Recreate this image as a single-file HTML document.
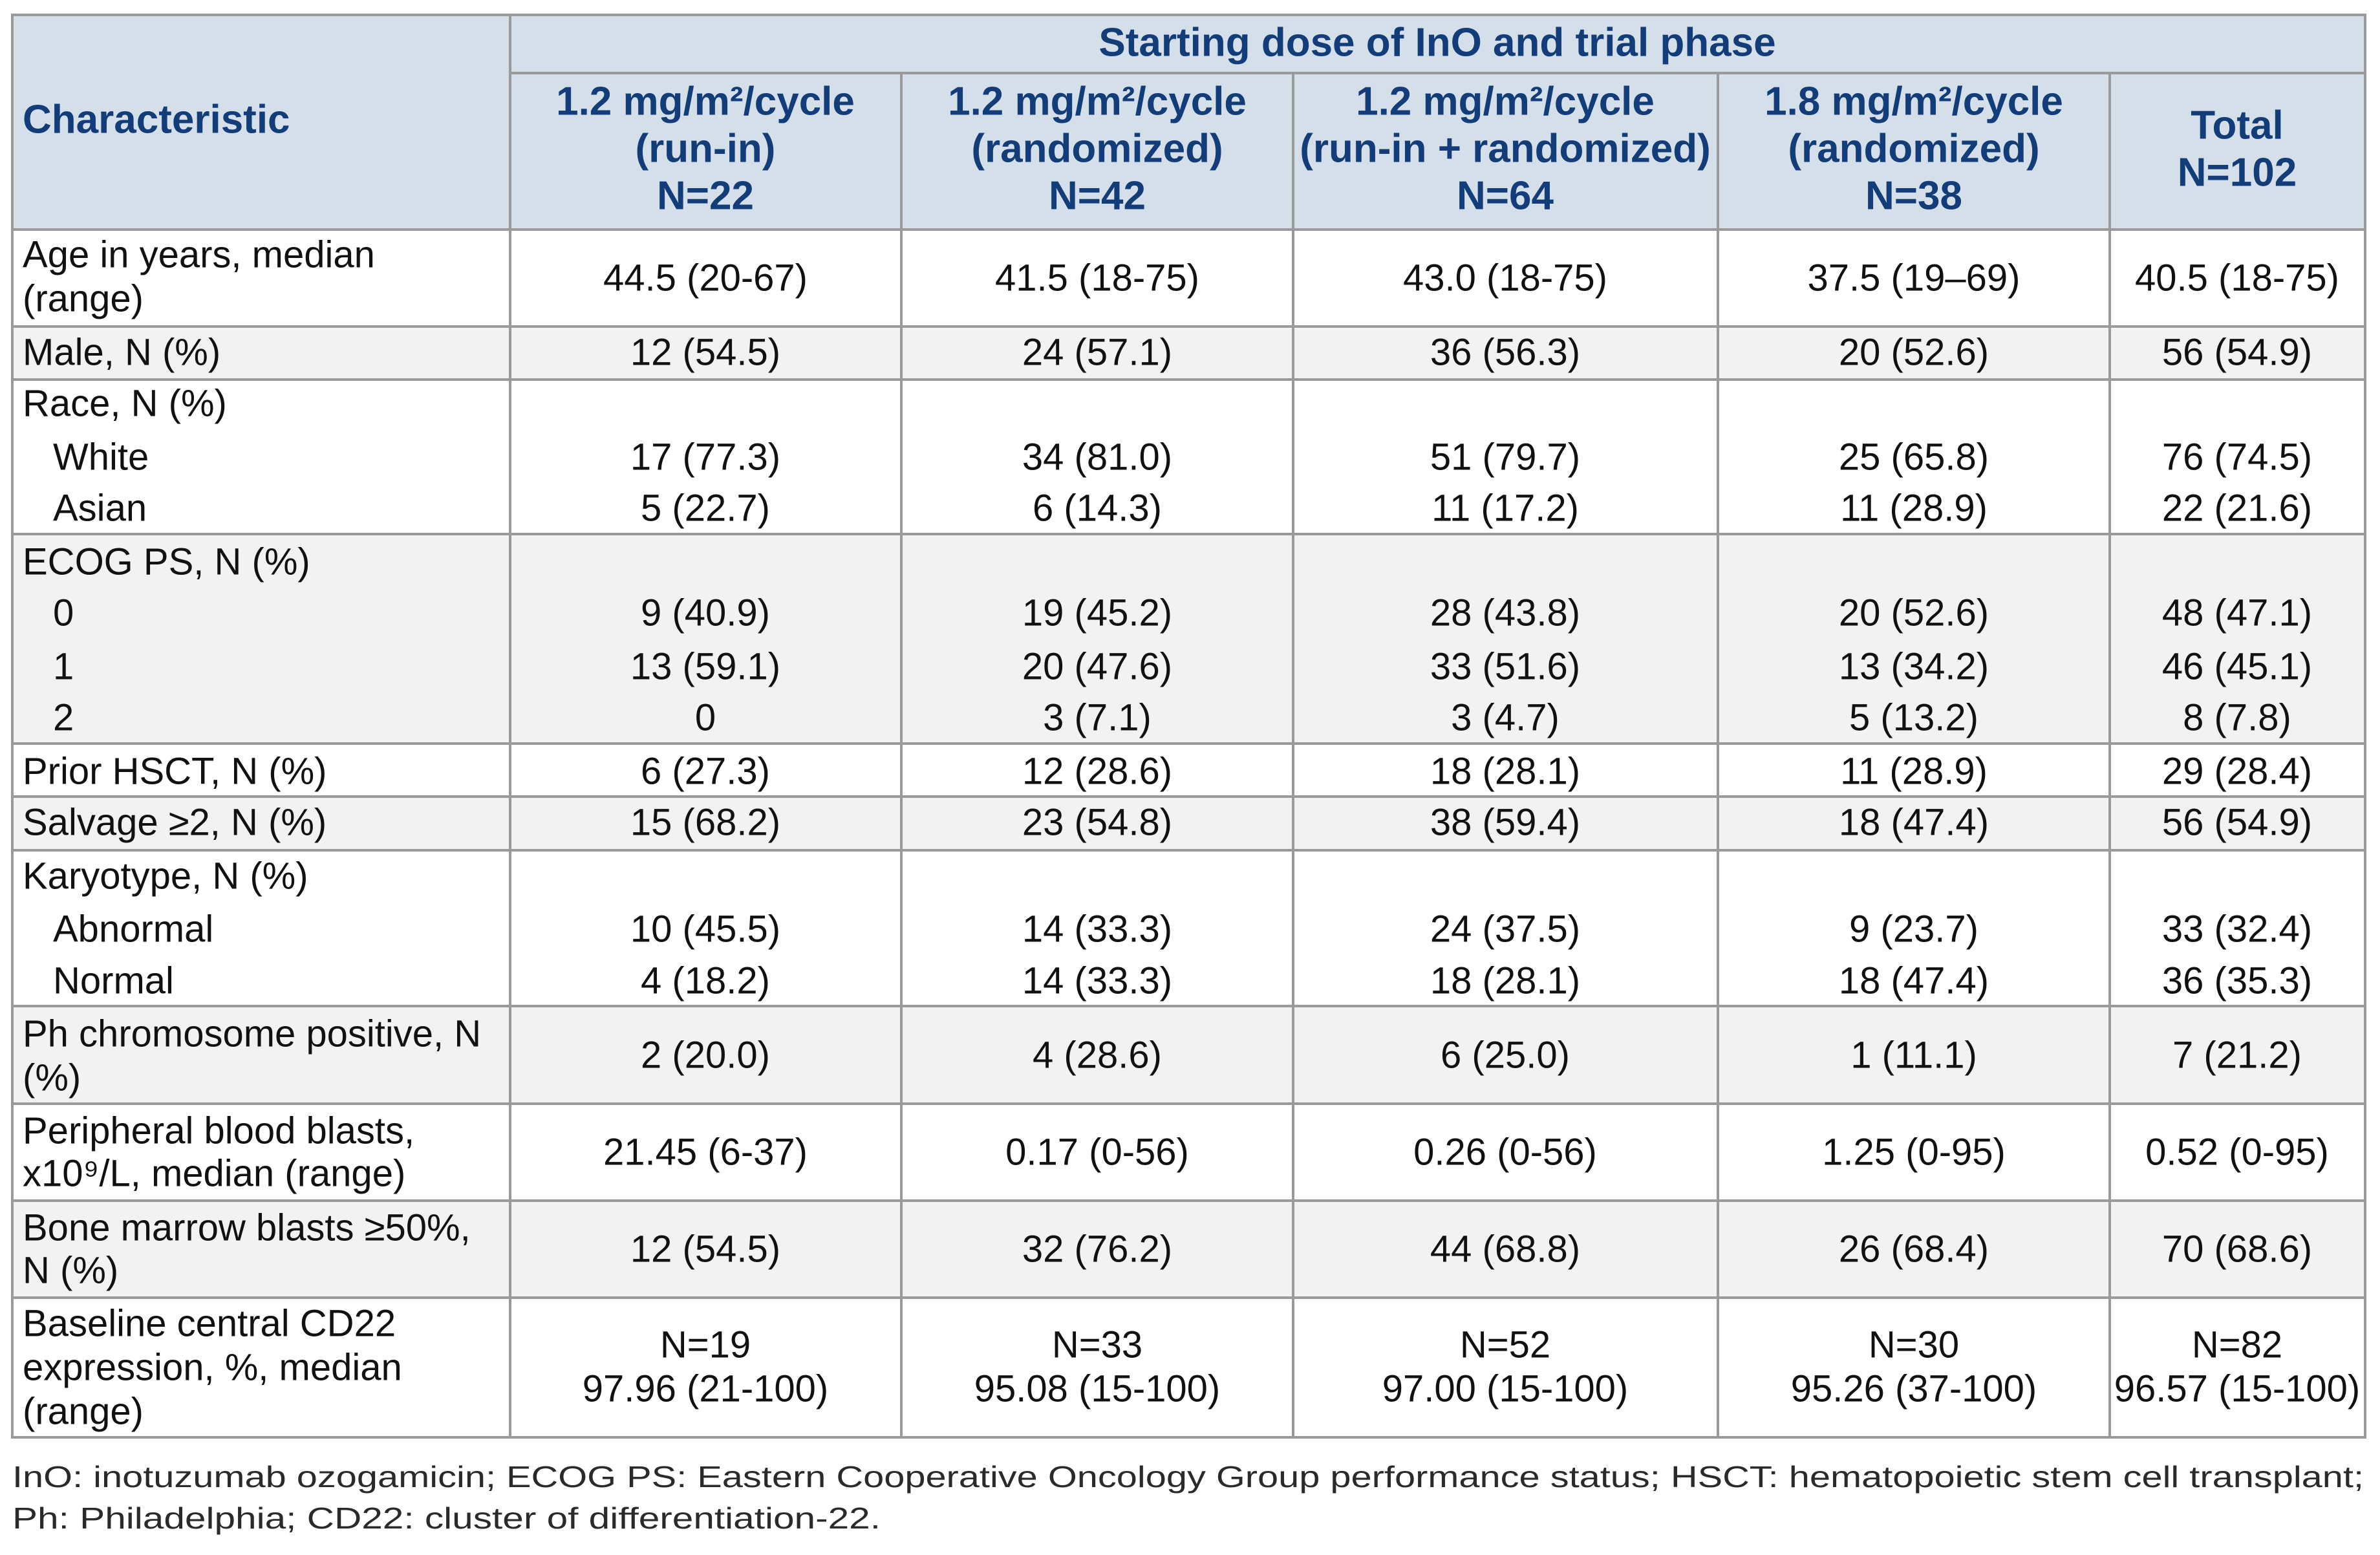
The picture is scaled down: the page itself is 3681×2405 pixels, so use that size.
<!DOCTYPE html>
<html><head><meta charset="utf-8"><style>
html,body{margin:0;padding:0;background:#fff;}
svg{display:block;}
text{font-family:"Liberation Sans",Arial,sans-serif;}
.h{font-weight:bold;fill:#123d78;font-size:62px;}
.b{fill:#111;font-size:58px;}
.c{text-anchor:middle;}
.f{fill:#2a2a2a;font-size:46px;}
</style></head><body>
<svg width="3681" height="2405" viewBox="0 0 3681 2405" xmlns="http://www.w3.org/2000/svg">
<rect x="0" y="0" width="3681" height="2405" fill="#fff"/>
<rect x="19" y="23" width="3639" height="332" fill="#d5dfe9"/>
<rect x="19" y="505" width="3639" height="82" fill="#f2f2f2"/>
<rect x="19" y="826" width="3639" height="324" fill="#f2f2f2"/>
<rect x="19" y="1232" width="3639" height="83" fill="#f2f2f2"/>
<rect x="19" y="1556" width="3639" height="151" fill="#f2f2f2"/>
<rect x="19" y="1857" width="3639" height="150" fill="#f2f2f2"/>
<g stroke="#9a9a9a" stroke-width="4" fill="none">
<rect x="19" y="23" width="3639" height="2200"/>
<line x1="789" y1="113" x2="3658" y2="113"/>
<line x1="19" y1="355" x2="3658" y2="355"/>
<line x1="19" y1="505" x2="3658" y2="505"/>
<line x1="19" y1="587" x2="3658" y2="587"/>
<line x1="19" y1="826" x2="3658" y2="826"/>
<line x1="19" y1="1150" x2="3658" y2="1150"/>
<line x1="19" y1="1232" x2="3658" y2="1232"/>
<line x1="19" y1="1315" x2="3658" y2="1315"/>
<line x1="19" y1="1556" x2="3658" y2="1556"/>
<line x1="19" y1="1707" x2="3658" y2="1707"/>
<line x1="19" y1="1857" x2="3658" y2="1857"/>
<line x1="19" y1="2007" x2="3658" y2="2007"/>
<line x1="789" y1="23" x2="789" y2="2223"/>
<line x1="1394" y1="113" x2="1394" y2="2223"/>
<line x1="2000" y1="113" x2="2000" y2="2223"/>
<line x1="2657" y1="113" x2="2657" y2="2223"/>
<line x1="3263" y1="113" x2="3263" y2="2223"/>
</g>
<g dominant-baseline="central">
<text class="h c" x="2223" y="66">Starting dose of InO and trial phase</text>
<text class="h" x="35" y="185">Characteristic</text>
<text class="h c" x="1091" y="157">1.2 mg/m²/cycle</text><text class="h c" x="1091" y="230">(run-in)</text><text class="h c" x="1091" y="303">N=22</text>
<text class="h c" x="1697" y="157">1.2 mg/m²/cycle</text><text class="h c" x="1697" y="230">(randomized)</text><text class="h c" x="1697" y="303">N=42</text>
<text class="h c" x="2328" y="157">1.2 mg/m²/cycle</text><text class="h c" x="2328" y="230">(run-in + randomized)</text><text class="h c" x="2328" y="303">N=64</text>
<text class="h c" x="2960" y="157">1.8 mg/m²/cycle</text><text class="h c" x="2960" y="230">(randomized)</text><text class="h c" x="2960" y="303">N=38</text>
<text class="h c" x="3460" y="194">Total</text><text class="h c" x="3460" y="267">N=102</text>

<g class="b">
<text x="35" y="394">Age in years, median</text><text x="35" y="462">(range)</text>
<text x="35" y="545">Male, N (%)</text>
<text x="35" y="624">Race, N (%)</text><text x="82" y="707">White</text><text x="82" y="786">Asian</text>
<text x="35" y="869">ECOG PS, N (%)</text><text x="82" y="948">0</text><text x="82" y="1031">1</text><text x="82" y="1110">2</text>
<text x="35" y="1193">Prior HSCT, N (%)</text>
<text x="35" y="1272">Salvage ≥2, N (%)</text>
<text x="35" y="1355">Karyotype, N (%)</text><text x="82" y="1437">Abnormal</text><text x="82" y="1517">Normal</text>
<text x="35" y="1599">Ph chromosome positive, N</text><text x="35" y="1667">(%)</text>
<text x="35" y="1749">Peripheral blood blasts,</text><text x="35" y="1815">x10⁹/L, median (range)</text>
<text x="35" y="1899">Bone marrow blasts ≥50%,</text><text x="35" y="1965">N (%)</text>
<text x="35" y="2047">Baseline central CD22</text><text x="35" y="2115">expression, %, median</text><text x="35" y="2183">(range)</text>
</g>
<g class="b c">
<text x="1091" y="430">44.5 (20-67)</text><text x="1697" y="430">41.5 (18-75)</text><text x="2328" y="430">43.0 (18-75)</text><text x="2960" y="430">37.5 (19–69)</text><text x="3460" y="430">40.5 (18-75)</text>
<text x="1091" y="545">12 (54.5)</text><text x="1697" y="545">24 (57.1)</text><text x="2328" y="545">36 (56.3)</text><text x="2960" y="545">20 (52.6)</text><text x="3460" y="545">56 (54.9)</text>
<text x="1091" y="707">17 (77.3)</text><text x="1697" y="707">34 (81.0)</text><text x="2328" y="707">51 (79.7)</text><text x="2960" y="707">25 (65.8)</text><text x="3460" y="707">76 (74.5)</text>
<text x="1091" y="786">5 (22.7)</text><text x="1697" y="786">6 (14.3)</text><text x="2328" y="786">11 (17.2)</text><text x="2960" y="786">11 (28.9)</text><text x="3460" y="786">22 (21.6)</text>
<text x="1091" y="948">9 (40.9)</text><text x="1697" y="948">19 (45.2)</text><text x="2328" y="948">28 (43.8)</text><text x="2960" y="948">20 (52.6)</text><text x="3460" y="948">48 (47.1)</text>
<text x="1091" y="1031">13 (59.1)</text><text x="1697" y="1031">20 (47.6)</text><text x="2328" y="1031">33 (51.6)</text><text x="2960" y="1031">13 (34.2)</text><text x="3460" y="1031">46 (45.1)</text>
<text x="1091" y="1110">0</text><text x="1697" y="1110">3 (7.1)</text><text x="2328" y="1110">3 (4.7)</text><text x="2960" y="1110">5 (13.2)</text><text x="3460" y="1110">8 (7.8)</text>
<text x="1091" y="1193">6 (27.3)</text><text x="1697" y="1193">12 (28.6)</text><text x="2328" y="1193">18 (28.1)</text><text x="2960" y="1193">11 (28.9)</text><text x="3460" y="1193">29 (28.4)</text>
<text x="1091" y="1272">15 (68.2)</text><text x="1697" y="1272">23 (54.8)</text><text x="2328" y="1272">38 (59.4)</text><text x="2960" y="1272">18 (47.4)</text><text x="3460" y="1272">56 (54.9)</text>
<text x="1091" y="1437">10 (45.5)</text><text x="1697" y="1437">14 (33.3)</text><text x="2328" y="1437">24 (37.5)</text><text x="2960" y="1437">9 (23.7)</text><text x="3460" y="1437">33 (32.4)</text>
<text x="1091" y="1517">4 (18.2)</text><text x="1697" y="1517">14 (33.3)</text><text x="2328" y="1517">18 (28.1)</text><text x="2960" y="1517">18 (47.4)</text><text x="3460" y="1517">36 (35.3)</text>
<text x="1091" y="1632">2 (20.0)</text><text x="1697" y="1632">4 (28.6)</text><text x="2328" y="1632">6 (25.0)</text><text x="2960" y="1632">1 (11.1)</text><text x="3460" y="1632">7 (21.2)</text>
<text x="1091" y="1782">21.45 (6-37)</text><text x="1697" y="1782">0.17 (0-56)</text><text x="2328" y="1782">0.26 (0-56)</text><text x="2960" y="1782">1.25 (0-95)</text><text x="3460" y="1782">0.52 (0-95)</text>
<text x="1091" y="1932">12 (54.5)</text><text x="1697" y="1932">32 (76.2)</text><text x="2328" y="1932">44 (68.8)</text><text x="2960" y="1932">26 (68.4)</text><text x="3460" y="1932">70 (68.6)</text>
<text x="1091" y="2080">N=19</text><text x="1697" y="2080">N=33</text><text x="2328" y="2080">N=52</text><text x="2960" y="2080">N=30</text><text x="3460" y="2080">N=82</text>
<text x="1091" y="2148">97.96 (21-100)</text><text x="1697" y="2148">95.08 (15-100)</text><text x="2328" y="2148">97.00 (15-100)</text><text x="2960" y="2148">95.26 (37-100)</text><text x="3460" y="2148">96.57 (15-100)</text>
</g>
<text class="f" x="19" y="2284" textLength="3637" lengthAdjust="spacingAndGlyphs">InO: inotuzumab ozogamicin; ECOG PS: Eastern Cooperative Oncology Group performance status; HSCT: hematopoietic stem cell transplant;</text>
<text class="f" x="19" y="2348" textLength="1343" lengthAdjust="spacingAndGlyphs">Ph: Philadelphia; CD22: cluster of differentiation-22.</text>
</g>
</svg>
</body></html>
